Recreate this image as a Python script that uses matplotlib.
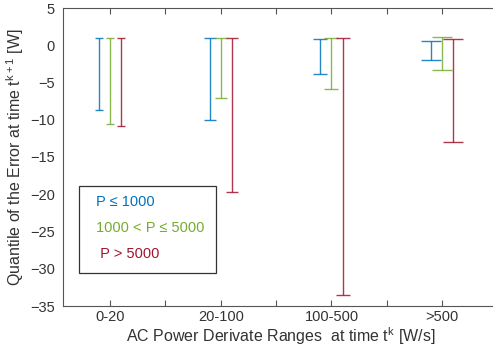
import matplotlib
matplotlib.use("Agg")
import matplotlib.pyplot as plt
from matplotlib.patches import Rectangle
import numpy as np

plt.rcParams['font.family'] = ['Liberation Sans', 'DejaVu Sans']
plt.rcParams['mathtext.fontset'] = 'custom'
plt.rcParams['mathtext.rm'] = 'Liberation Sans'
plt.rcParams['mathtext.it'] = 'Liberation Sans'

categories = ["0-20", "20-100", "100-500", ">500"]
series_labels = ["P \u2264 1000", "1000 < P \u2264 5000", " P > 5000"]
upper = {
    "low":  [0.95, 1.0, 0.88, 0.62],
    "mid":  [0.93, 0.93, 1.0, 1.1],
    "high": [0.95, 1.0, 1.0, 0.84],
}
lower = {
    "low":  [-8.7, -10.0, -3.8, -2.0],
    "mid":  [-10.6, -7.1, -5.9, -3.3],
    "high": [-10.8, -19.7, -33.5, -13.0],
}
colors = ["#0072BD", "#77AC30", "#A2142F"]
keys = ["low", "mid", "high"]
offsets = [-0.1, 0.0, 0.1]
capsizes = [3.0, 4.0, 5.0, 7.0]

fig = plt.figure(figsize=(4.93, 3.54), dpi=100)
W, H = 493, 354
left, right, top, bottom = 63, 497.5, 8, 306
ax = fig.add_axes([left / W, 1 - bottom / H, (right - left) / W, (bottom - top) / H])

x = np.arange(1, len(categories) + 1)
for k, c, off in zip(keys, colors, offsets):
    for i in range(len(categories)):
        ax.errorbar([x[i] + off], [0], yerr=[[0 - lower[k][i]], [upper[k][i] - 0]],
                    fmt='none', ecolor=c, elinewidth=1.0, capsize=capsizes[i],
                    capthick=1.0, alpha=0.85)

ax.set_xlim(0.575, 4.5)
ax.set_ylim(-35, 5)
ax.set_xticks(x)
ax.set_xticklabels(categories)
ax.set_xticks(np.arange(1.5, 4.5, 1.0), minor=True)
ax.set_yticks(np.arange(-35, 6, 5))
ax.tick_params(axis='both', which='both', direction='in', length=4, color='#555555',
               labelsize=10.5, labelcolor='#333333', top=True, right=False, width=0.8)
ax.tick_params(axis='y', length=0, pad=6)
ax.tick_params(axis='x', pad=3)
for s in ['left', 'bottom', 'top']:
    ax.spines[s].set_color('#555555')
    ax.spines[s].set_linewidth(0.8)
ax.spines['right'].set_visible(False)

ax.set_xlabel("AC Power Derivate Ranges  at time t$^{k}$ [W/s]", fontsize=11.5, color='#333333', labelpad=0.5)
ax.set_ylabel("Quantile of the Error at time t$^{k+1}$ [W]", fontsize=11.5, color='#333333', labelpad=3)

# legend box (text only, like the reference)
bx0, by0, bx1, by1 = 79, 186, 216, 273
fig.patches.append(Rectangle((bx0 / W, 1 - by1 / H), (bx1 - bx0) / W, (by1 - by0) / H,
                             transform=fig.transFigure, fill=True, facecolor='white',
                             edgecolor='#333333', linewidth=0.9, zorder=5))
ys = [201.5, 228, 254]
for lab, c, yy in zip(series_labels, colors, ys):
    fig.text(96 / W, 1 - yy / H, lab, color=c, fontsize=10.5, va='center', ha='left', zorder=6)

fig.savefig("out.png", dpi=100)
